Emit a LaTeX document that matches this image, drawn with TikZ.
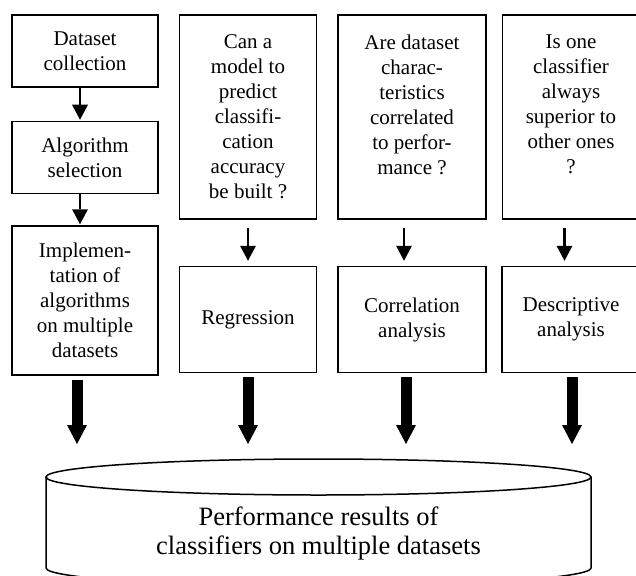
\documentclass[tikz,border=0pt]{standalone}
\usepackage{fontspec}
\setmainfont{Liberation Serif}
\usepackage{tikz}
\usetikzlibrary{arrows.meta}
\usetikzlibrary{positioning}
\tikzstyle{block} = [rectangle, draw, fill=white, align=center, inner sep=0pt,
minimum height=72pt, line width=1.5pt, font=\fontsize{21pt}{25pt}\selectfont]
\tikzstyle{qbox} = [block, minimum height=204pt]
\tikzstyle{abox} = [block, minimum height=106pt]
\tikzstyle{db} = [rectangle, align=center, inner sep=0pt, outer sep=0pt,
minimum width=545pt, minimum height=91pt, text height=70pt, text depth=7pt,
font=\fontsize{26.5pt}{29pt}\selectfont]
\tikzstyle{line} = [draw, -{Triangle[width=16pt,length=15pt,line width=0pt]}, line width=2.5pt]
\tikzstyle{bigline} = [draw, -{Triangle[width=20pt,length=19pt,line width=0pt]}, line width=11pt]

\begin{document}
\begin{tikzpicture}[x=1pt, y=1pt]
\useasboundingbox (0,0) rectangle (636,-575);
% Place nodes
	\node [block, minimum width=146pt] at (85,-51) (data) {Dataset\\collection};
	\node [block, minimum width=146pt, below=33pt of data] (algo) {Algorithm\\selection};
	\node [block, minimum width=146pt, minimum height=149pt, below=31pt of algo] (impl) {Implemen-\\tation of\\algorithms\\on multiple\\datasets};
	\node [qbox, minimum width=137pt, right=20pt of data.north east, anchor=north west] (qreg) {Can a\\model to\\predict\\classifi-\\cation\\accuracy\\be built ?};
	\node [qbox, minimum width=148pt, right=20pt of qreg] (qcor) {Are dataset\\charac-\\teristics\\correlated\\to perfor-\\mance ?\\ \mbox{}};
	\node [qbox, minimum width=137pt, right=15pt of qcor] (qdes) {Is one\\classifier\\always\\superior to\\other ones\\?\\ \mbox{}};
	\node [abox, minimum width=137pt, below=46pt of qreg] (reg) {Regression};
	\node [abox, minimum width=148pt, below=46pt of qcor] (cor) {Correlation\\analysis};
	\node [abox, minimum width=138pt, below=46pt of qdes] (des) {Descriptive\\analysis};
	\node [db] at (318.5,-522.5) (res) {Performance results of\\classifiers on multiple datasets};

% Cylinder
	\draw [line width=1.5pt] (res.north west) -- (res.south west) arc [start angle=180, end angle=360, x radius=272.5pt, y radius=18pt] -- (res.north east);
	\draw [line width=1.5pt] (res.north) ellipse [x radius=272.5pt, y radius=18pt];

% Draw edges
	\path [line, shorten >=1pt] ([xshift=-5pt]data.south) -- ([xshift=-5pt]algo.north);
	\path [line, shorten >=1pt] ([xshift=-5pt]algo.south) -- ([xshift=-5pt]impl.north);
	\path [line, shorten <=8pt, shorten >=5pt] (qreg.south) -- (reg.north);
	\path [line, shorten <=8pt, shorten >=5pt] ([xshift=-8pt]qcor.south) -- ([xshift=-8pt]cor.north);
	\path [line, shorten <=8pt, shorten >=5pt] ([xshift=-6.5pt]qdes.south) -- ([xshift=-6.5pt]des.north);
	\path [bigline, shorten <=4pt, shorten >=33pt] ([xshift=-8pt]impl.south) -- ([xshift=-8pt]impl.south |- res.north);
	\path [bigline, shorten <=4pt, shorten >=33pt] (reg.south) -- (reg.south |- res.north);
	\path [bigline, shorten <=4pt, shorten >=33pt] ([xshift=-6pt]cor.south) -- ([xshift=-6pt]cor.south |- res.north);
	\path [bigline, shorten <=4pt, shorten >=33pt] ([xshift=1pt]des.south) -- ([xshift=1pt]des.south |- res.north);

\end{tikzpicture}
\end{document}
